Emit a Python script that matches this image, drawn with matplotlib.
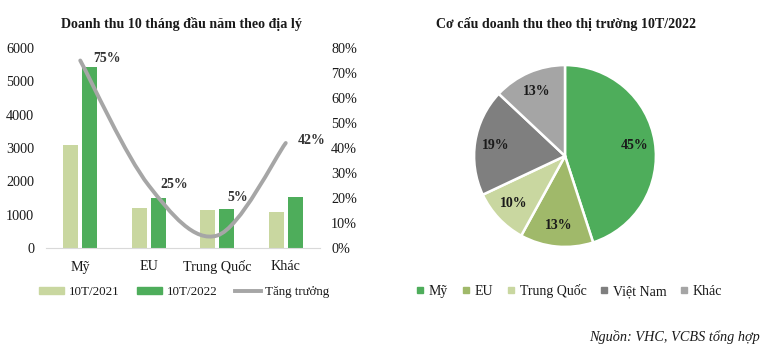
import matplotlib.pyplot as plt
from matplotlib.patches import Patch
from matplotlib.lines import Line2D
from matplotlib.path import Path
from matplotlib.patches import PathPatch
import numpy as np

plt.rcParams['font.family'] = ['Liberation Serif', 'DejaVu Serif']

# Revenue by region, first 10 months
regions = ['Mỹ', 'EU', 'Trung Quốc', 'Khác']
rev_2021 = [3090, 1200, 1130, 1080]
rev_2022 = [5430, 1500, 1180, 1530]
growth = [0.75, 0.25, 0.05, 0.42]
growth_labels = ['75%', '25%', '5%', '42%']

# Revenue structure by market 10T/2022
markets = ['Mỹ', 'EU', 'Trung Quốc', 'Việt Nam', 'Khác']
shares = [45, 13, 10, 19, 13]

GREEN = '#4EAD5B'
LIGHT = '#C9D7A0'
OLIVE = '#A0B96A'
DGRAY = '#7F7F7F'
LGRAY = '#A5A5A5'
TEXT = '#1a1a1a'


def smooth_path(xs, ys):
    # Catmull-Rom style bezier through the points (like a spreadsheet smoothed line)
    pts = np.column_stack([xs, ys]).astype(float)
    n = len(pts)
    verts = [pts[0]]
    codes = [Path.MOVETO]
    for i in range(n - 1):
        p0 = pts[max(i - 1, 0)]
        p1 = pts[i]
        p2 = pts[i + 1]
        p3 = pts[min(i + 2, n - 1)]
        c1 = p1 + (p2 - p0) / 6
        c2 = p2 - (p3 - p1) / 6
        verts += [c1, c2, p2]
        codes += [Path.CURVE4] * 3
    return Path(verts, codes)


fig = plt.figure(figsize=(7.65, 3.49), dpi=100)

# ---- left: bars + growth line
ax = fig.add_axes([46 / 765, 1 - 248 / 349, 274 / 765, 200 / 349])
x = np.arange(len(regions))
w = 0.22
ax.bar(x - 0.14, rev_2021, w, color=LIGHT, zorder=2)
ax.bar(x + 0.14, rev_2022, w, color=GREEN, zorder=2)
ax.set_xlim(-0.5, 3.5)
ax.set_ylim(0, 6000)
ax.set_yticks(range(0, 6001, 1000))
ax.set_xticks(x)
ax.set_xticklabels(regions)
for s in ['top', 'left', 'right']:
    ax.spines[s].set_visible(False)
ax.spines['bottom'].set_color('#D9D9D9')
ax.tick_params(length=0, labelsize=10.2, colors=TEXT)
ax.tick_params(axis='x', pad=9)
ax.tick_params(axis='y', pad=8.5)

ax2 = ax.twinx()
ax2.set_ylim(0, 0.8)
ax2.set_yticks(np.arange(0, 0.81, 0.1))
ax2.set_yticklabels([f'{int(round(v * 100))}%' for v in np.arange(0, 0.81, 0.1)])
for s in ax2.spines.values():
    s.set_visible(False)
ax2.tick_params(length=0, labelsize=10.2, colors=TEXT, pad=8)
ax2.add_patch(PathPatch(smooth_path(x, growth), facecolor='none',
                        edgecolor='#A6A6A6', lw=2.8, capstyle='round', zorder=3))

offsets = [(13, -2), (12, -1), (10, -38), (12, -2)]
for xi, g, lab, off in zip(x, growth, growth_labels, offsets):
    ax2.annotate(lab, (xi, g), xytext=(off[0], -off[1]), textcoords='offset pixels',
                 ha='left', va='center', fontsize=10, fontweight='bold', color='#333333')

fig.text(181 / 765, 1 - 24 / 349, 'Doanh thu 10 tháng đầu năm theo địa lý',
         ha='center', va='center', fontsize=10.1, fontweight='bold', color=TEXT)

handles = [Patch(color=LIGHT), Patch(color=GREEN),
           Line2D([], [], color='#A6A6A6', lw=2.8)]
fig.legend(handles, ['10T/2021', '10T/2022', 'Tăng trưởng'], ncol=3,
           loc='center', bbox_to_anchor=(184 / 765, 1 - 292 / 349), frameon=False,
           fontsize=9.4, handlelength=1.95, handleheight=0.45, handletextpad=0.35,
           columnspacing=1.35, labelcolor=TEXT)

# ---- right: pie
pax = fig.add_axes([(565 - 100) / 765, 1 - (156 + 100) / 349, 200 / 765, 200 / 349])
pax.pie(shares, colors=[GREEN, OLIVE, LIGHT, DGRAY, LGRAY], startangle=90,
        counterclock=False, autopct='%d%%', pctdistance=0.77,
        wedgeprops=dict(edgecolor='white', linewidth=1.8),
        textprops=dict(fontsize=10, fontweight='bold', color=TEXT))
pax.set_xlim(-1.1, 1.1)
pax.set_ylim(-1.1, 1.1)

fig.text(566 / 765, 1 - 24 / 349, 'Cơ cấu doanh thu theo thị trường 10T/2022',
         ha='center', va='center', fontsize=10.1, fontweight='bold', color=TEXT)

phandles = [Line2D([], [], ls='none', marker='s', markersize=4.5, color=c)
            for c in [GREEN, OLIVE, LIGHT, DGRAY, LGRAY]]
fig.legend(phandles, markets, ncol=5, loc='center',
           bbox_to_anchor=(569 / 765, 1 - 291 / 349), frameon=False,
           fontsize=10, handlelength=0.6, handletextpad=0.35, columnspacing=0.95,
           labelcolor=TEXT)

fig.text(760 / 765, 1 - 337 / 349, 'Nguồn: VHC, VCBS tổng hợp', ha='right',
         va='center', fontsize=10.3, fontstyle='italic', color=TEXT)

fig.savefig('out.png', dpi=100)
